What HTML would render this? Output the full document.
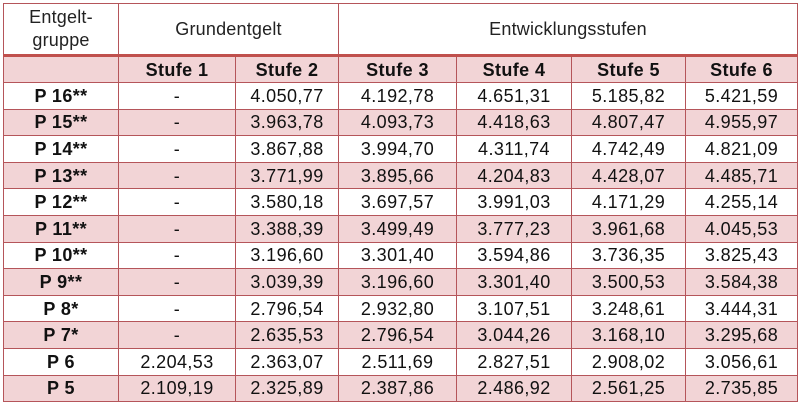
<!DOCTYPE html>
<html><head><meta charset="utf-8">
<style>
html,body{margin:0;padding:0;background:#fff;width:801px;height:406px;overflow:hidden}
table{position:absolute;left:3px;top:3px;border-collapse:collapse;table-layout:fixed;font-family:"Liberation Sans",sans-serif;color:#111}
td{border:1px solid #b5555a;text-align:center;padding:0;font-size:18px;letter-spacing:0.4px;height:25.6px;line-height:20px;white-space:nowrap;overflow:hidden}
tr.p td{background:#f2d4d6}
tr.h td{font-size:18px;height:50px;line-height:23px;letter-spacing:0.2px;color:#222}
tr.h td{border-bottom:3px solid #c0504d}
tr.s td{font-weight:bold;height:25px}
td.g{font-weight:bold}
</style></head><body>
<table>
<colgroup><col style="width:115px"><col style="width:117px"><col style="width:103px"><col style="width:118px"><col style="width:115px"><col style="width:114px"><col style="width:112px"></colgroup>
<tr class="h"><td>Entgelt-<br>gruppe</td><td colspan="2">Grundentgelt</td><td colspan="4">Entwicklungsstufen</td></tr>
<tr class="s p"><td></td><td>Stufe 1</td><td>Stufe 2</td><td>Stufe 3</td><td>Stufe 4</td><td>Stufe 5</td><td>Stufe 6</td></tr>
<tr><td class="g">P 16**</td><td>-</td><td>4.050,77</td><td>4.192,78</td><td>4.651,31</td><td>5.185,82</td><td>5.421,59</td></tr>
<tr class="p"><td class="g">P 15**</td><td>-</td><td>3.963,78</td><td>4.093,73</td><td>4.418,63</td><td>4.807,47</td><td>4.955,97</td></tr>
<tr><td class="g">P 14**</td><td>-</td><td>3.867,88</td><td>3.994,70</td><td>4.311,74</td><td>4.742,49</td><td>4.821,09</td></tr>
<tr class="p"><td class="g">P 13**</td><td>-</td><td>3.771,99</td><td>3.895,66</td><td>4.204,83</td><td>4.428,07</td><td>4.485,71</td></tr>
<tr><td class="g">P 12**</td><td>-</td><td>3.580,18</td><td>3.697,57</td><td>3.991,03</td><td>4.171,29</td><td>4.255,14</td></tr>
<tr class="p"><td class="g">P 11**</td><td>-</td><td>3.388,39</td><td>3.499,49</td><td>3.777,23</td><td>3.961,68</td><td>4.045,53</td></tr>
<tr><td class="g">P 10**</td><td>-</td><td>3.196,60</td><td>3.301,40</td><td>3.594,86</td><td>3.736,35</td><td>3.825,43</td></tr>
<tr class="p"><td class="g">P 9**</td><td>-</td><td>3.039,39</td><td>3.196,60</td><td>3.301,40</td><td>3.500,53</td><td>3.584,38</td></tr>
<tr><td class="g">P 8*</td><td>-</td><td>2.796,54</td><td>2.932,80</td><td>3.107,51</td><td>3.248,61</td><td>3.444,31</td></tr>
<tr class="p"><td class="g">P 7*</td><td>-</td><td>2.635,53</td><td>2.796,54</td><td>3.044,26</td><td>3.168,10</td><td>3.295,68</td></tr>
<tr><td class="g">P 6</td><td>2.204,53</td><td>2.363,07</td><td>2.511,69</td><td>2.827,51</td><td>2.908,02</td><td>3.056,61</td></tr>
<tr class="p"><td class="g">P 5</td><td>2.109,19</td><td>2.325,89</td><td>2.387,86</td><td>2.486,92</td><td>2.561,25</td><td>2.735,85</td></tr>
</table>
</body></html>
